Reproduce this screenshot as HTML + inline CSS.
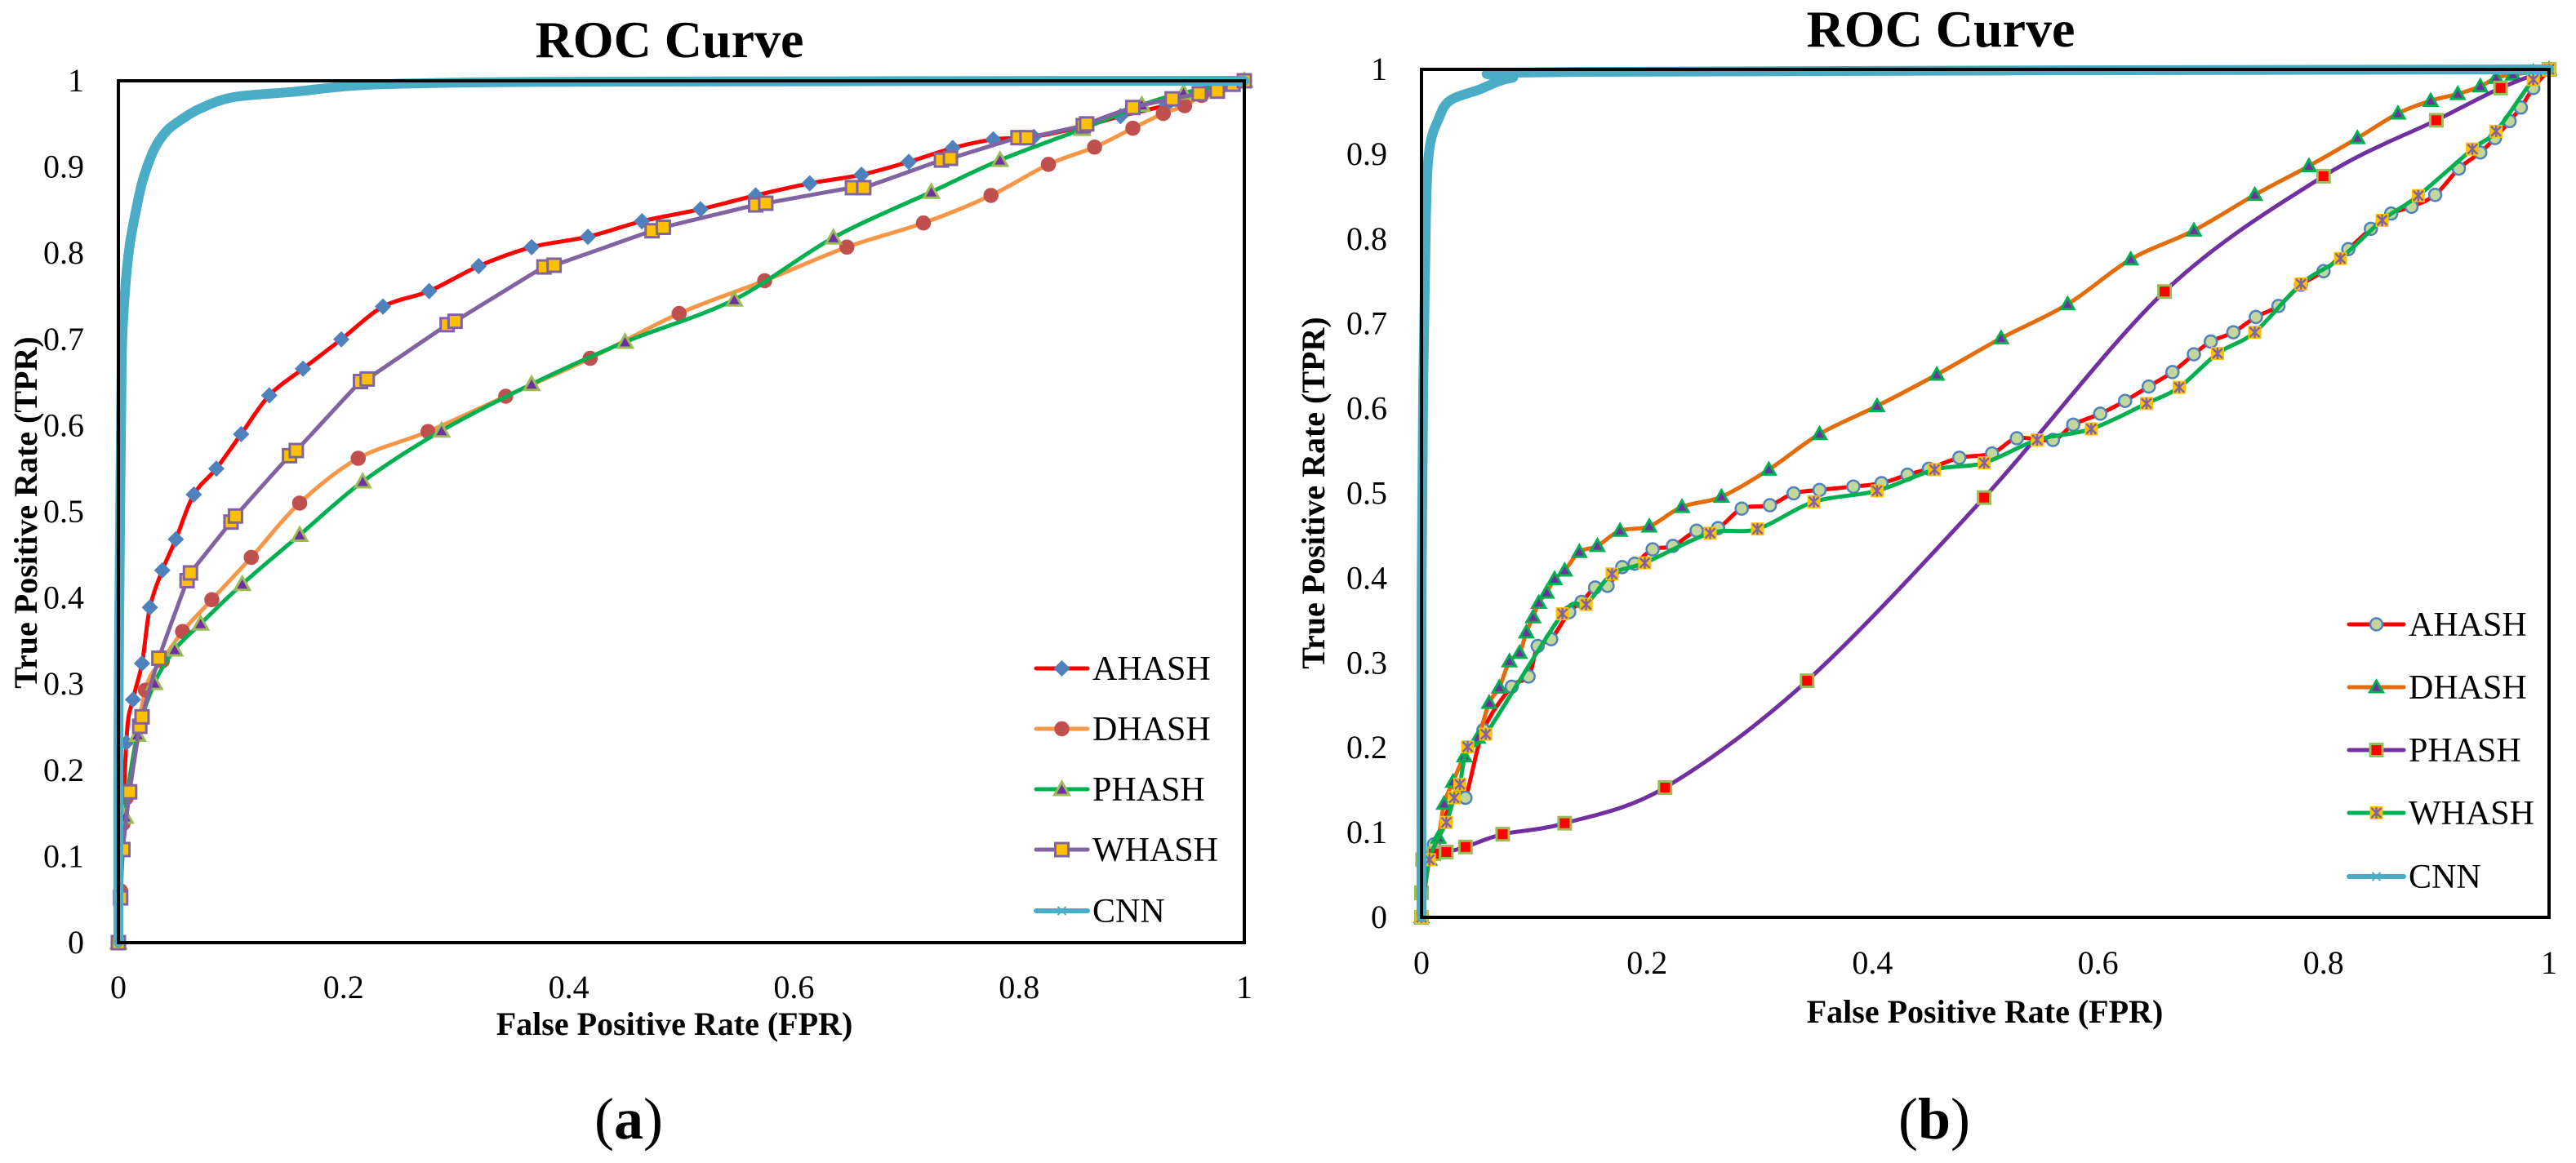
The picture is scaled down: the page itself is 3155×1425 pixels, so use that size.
<!DOCTYPE html>
<html><head><meta charset="utf-8">
<style>
html,body{margin:0;padding:0;background:#fff;}
svg{display:block;}
text{font-family:"Liberation Serif",serif;fill:#000;}
</style></head>
<body>
<svg id="fig" width="3155" height="1425" viewBox="0 0 3155 1425" xmlns="http://www.w3.org/2000/svg"></svg>
<script>
// ---------- Panel (a) data ----------
const ticksA = [0,0.2,0.4,0.6,0.8,1];
const yTicks = [0,0.1,0.2,0.3,0.4,0.5,0.6,0.7,0.8,0.9,1];
const tickLabelsX = ["0","0.2","0.4","0.6","0.8","1"];
const tickLabelsY = ["0","0.1","0.2","0.3","0.4","0.5","0.6","0.7","0.8","0.9","1"];
const seriesNames = ["AHASH","DHASH","PHASH","WHASH","CNN"];

const aAhashX=[0,.007,.013,.021,.028,.039,.051,.067,.087,.109,.134,.164,.198,.235,.276,.32,.367,.417,.465,.517,.566,.614,.66,.702,.741,.777,.813,.857,.89,.931,.968,1];
const aAhashY=[0,.232,.282,.324,.389,.432,.468,.52,.55,.59,.635,.666,.7,.738,.756,.785,.807,.819,.837,.851,.867,.881,.891,.906,.922,.932,.935,.947,.959,.972,.99,1];
const aDhashX=[0,.002,.004,.007,.024,.039,.057,.083,.118,.161,.213,.275,.344,.419,.498,.574,.647,.715,.775,.826,.867,.901,.928,.947,.962,.977,1];
const aDhashY=[0,.06,.138,.168,.293,.327,.361,.398,.447,.51,.562,.593,.634,.678,.73,.768,.807,.835,.867,.903,.923,.945,.962,.971,.983,.99,1];
const aPhashX=[0,.006,.017,.032,.05,.073,.11,.161,.217,.287,.367,.45,.547,.635,.722,.783,.856,.909,.946,1];
const aPhashY=[0,.146,.241,.301,.34,.37,.416,.473,.535,.594,.648,.697,.746,.818,.871,.908,.944,.972,.986,1];
const aWhashX=[0,.002,.004,.01,.019,.021,.036,.061,.064,.1,.104,.152,.158,.215,.221,.292,.299,.378,.387,.474,.484,.566,.575,.652,.662,.731,.739,.799,.807,.857,.86,.901,.936,.96,.976,.99,1];
const aWhashY=[0,.052,.108,.175,.251,.262,.33,.42,.429,.488,.495,.565,.571,.651,.654,.717,.721,.784,.786,.826,.83,.856,.858,.876,.876,.908,.91,.934,.934,.948,.95,.969,.979,.985,.988,.996,1];
const aCnnX=[0,0,.0015,.003,.006,.01,.016,.022,.032,.043,.056,.073,.102,.154,.206,.265,.413,1];
const aCnnY=[0,.23,.49,.68,.758,.809,.852,.886,.921,.942,.955,.968,.981,.987,.994,.997,.999,1];

// ---------- Panel (b) data ----------
const bAhashX=[0,.001,.011,.033,.039,.055,.08,.095,.103,.115,.131,.142,.154,.165,.178,.189,.205,.223,.244,.263,.284,.309,.33,.353,.383,.408,.431,.45,.477,.506,.528,.56,.578,.602,.624,.645,.666,.685,.7,.72,.74,.76,.78,.8,.822,.842,.86,.878,.899,.92,.939,.952,.965,.975,.986,1];
const bAhashY=[0,.068,.086,.155,.141,.221,.272,.284,.32,.328,.36,.372,.389,.391,.413,.417,.434,.438,.456,.459,.482,.486,.5,.504,.508,.512,.522,.529,.542,.547,.565,.563,.581,.594,.609,.626,.643,.664,.679,.69,.708,.721,.746,.762,.788,.812,.83,.838,.852,.883,.902,.919,.939,.955,.978,1];
const bDhashX=[0,.007,.015,.02,.028,.038,.05,.06,.069,.078,.087,.093,.099,.104,.111,.118,.127,.14,.156,.176,.202,.231,.266,.308,.353,.404,.457,.514,.573,.629,.685,.739,.787,.83,.866,.895,.919,.939,.953,.968,.986,1];
const bDhashY=[0,.068,.094,.134,.16,.19,.212,.253,.271,.302,.312,.336,.354,.371,.383,.399,.409,.431,.438,.456,.461,.484,.496,.528,.57,.603,.64,.683,.723,.776,.81,.852,.886,.919,.948,.963,.971,.98,.99,.994,.997,1];
const bPhashX=[0,0,.001,.011,.022,.039,.072,.127,.216,.342,.499,.659,.8,.9,.957,1];
const bPhashY=[0,.029,.068,.075,.077,.083,.098,.111,.153,.279,.495,.738,.874,.94,.978,1];
const bWhashX=[0,.007,.022,.029,.034,.041,.057,.125,.146,.169,.198,.256,.298,.348,.404,.455,.499,.546,.594,.643,.672,.706,.739,.78,.815,.852,.884,.932,.953,.986,1];
const bWhashY=[0,.068,.112,.141,.157,.201,.216,.358,.369,.405,.418,.453,.458,.49,.503,.528,.536,.563,.576,.606,.625,.665,.69,.747,.777,.822,.851,.906,.927,.988,1];
const bCnnX=[0,0,.0015,.004,.007,.015,.025,.051,.08,.138,1];
const bCnnY=[0,.339,.627,.828,.906,.941,.963,.976,.99,.997,1];

const NS="http://www.w3.org/2000/svg";
const svg=document.getElementById('fig');
function mk(tag,attrs,parent){const e=document.createElementNS(NS,tag);for(const k in attrs)e.setAttribute(k,attrs[k]);(parent||svg).appendChild(e);return e;}

function smoothPath(pts){
  if(pts.length<2)return "";
  let d=`M${pts[0][0]},${pts[0][1]}`;
  for(let i=0;i<pts.length-1;i++){
    const p0=pts[i-1]||pts[i],p1=pts[i],p2=pts[i+1],p3=pts[i+2]||p2;
    const t=0.16;
    const c1=[p1[0]+(p2[0]-p0[0])*t,p1[1]+(p2[1]-p0[1])*t];
    const c2=[p2[0]-(p3[0]-p1[0])*t,p2[1]-(p3[1]-p1[1])*t];
    d+=` C${c1[0].toFixed(1)},${c1[1].toFixed(1)} ${c2[0].toFixed(1)},${c2[1].toFixed(1)} ${p2[0].toFixed(1)},${p2[1].toFixed(1)}`;
  }
  return d;
}

function marker(g,type,x,y,s){
  const r=s.size/2;let e;
  if(type==='diamond'){e=mk('polygon',{points:`${x},${y-r-2} ${x+r+2},${y} ${x},${y+r+2} ${x-r-2},${y}`,fill:s.mf,stroke:s.ms,'stroke-width':1.5},g);}
  else if(type==='circle'){e=mk('circle',{cx:x,cy:y,r:r,fill:s.mf,stroke:s.ms,'stroke-width':2.5},g);}
  else if(type==='triangle'){e=mk('polygon',{points:`${x},${y-r-1} ${x+r+1},${y+r-1} ${x-r-1},${y+r-1}`,fill:s.mf,stroke:s.ms,'stroke-width':3},g);}
  else if(type==='square'){e=mk('rect',{x:x-r,y:y-r,width:2*r,height:2*r,fill:s.mf,stroke:s.ms,'stroke-width':3},g);}
  else if(type==='xsquare'){e=mk('g',{},g);mk('rect',{x:x-r,y:y-r,width:2*r,height:2*r,fill:s.mf},e);
    mk('path',{d:`M${x-r+2},${y-r+2}L${x+r-2},${y+r-2}M${x+r-2},${y-r+2}L${x-r+2},${y+r-2}M${x},${y-r+1}L${x},${y+r-1}`,stroke:s.ms,'stroke-width':2.5},e);}
  else if(type==='x'){e=mk('path',{d:`M${x-5},${y-5}L${x+5},${y+5}M${x+5},${y-5}L${x-5},${y+5}`,stroke:s.ms,'stroke-width':2},g);}
  
  
  return e;
}

function panel(cfg){
  const {L,T,R,B}=cfg;
  const sx=v=>L+v*(R-L), sy=v=>B-v*(B-T);
  const root=mk('g',{});
  
  
  const t=mk('text',{x:cfg.titleX,y:cfg.titleY,'text-anchor':'middle','font-size':64,'font-weight':'bold'},root);t.textContent='ROC Curve';
  
  yTicks.forEach((v,i)=>{const e=mk('text',{x:cfg.yLabX,y:sy(v)+13,'text-anchor':'end','font-size':40},root);e.textContent=tickLabelsY[i];
    });
  ticksA.forEach((v,i)=>{const e=mk('text',{x:sx(v),y:cfg.xLabY,'text-anchor':'middle','font-size':40},root);e.textContent=tickLabelsX[i];
    });
  const xt=mk('text',{x:cfg.xtX,y:cfg.xtY,'text-anchor':'middle','font-size':40,'font-weight':'bold'},root);xt.textContent='False Positive Rate (FPR)';
  
  const yt=mk('text',{x:0,y:0,'text-anchor':'middle','font-size':40,'font-weight':'bold',transform:`translate(${cfg.ytX},${cfg.ytY}) rotate(-90)`},root);yt.textContent='True Positive Rate (TPR)';
  
  const cap=mk('text',{x:cfg.capX,y:cfg.capY,'text-anchor':'middle','font-size':72},root);
  cap.innerHTML='(<tspan font-weight="bold">'+cfg.cap+'</tspan>)';
  
  cfg.series.forEach(s=>{
    const g=mk('g',{},root);
    
    const pts=s.xs.map((x,i)=>[sx(x),sy(s.ys[i])]);
    const p=mk('path',{d:smoothPath(pts),fill:'none',stroke:s.color,'stroke-width':s.lw,'stroke-linejoin':'round','stroke-linecap':'round'},g);
    
    if(s.mtype!=='x') pts.forEach(q=>marker(g,s.mtype,q[0],q[1],s));
  });
  const fr=mk('rect',{x:L,y:T,width:R-L,height:B-T,fill:'none',stroke:'#000','stroke-width':4},root);
  
  cfg.series.forEach((s,i)=>{
    const g=mk('g',{},root);
    
    const y=cfg.legY[i];
    mk('line',{x1:cfg.legX1,y1:y,x2:cfg.legX2,y2:y,stroke:s.color,'stroke-width':s.mtype==='x'?6:5,'stroke-linecap':'round'},g);
    marker(g,s.mtype,(cfg.legX1+cfg.legX2)/2,y,s);
    const tx=mk('text',{x:cfg.legX2+6,y:y+14,'font-size':42},g);tx.textContent=seriesNames[i];
  });
}

panel({id:'panel-a',L:145,T:99,R:1524,B:1155,titleX:820,titleY:70,yLabX:103,xLabY:1223,xtX:826,xtY:1268,ytX:45,ytY:628,capX:770,capY:1395,cap:'a',
  legX1:1269,legX2:1332,legY:[819,893,967,1041,1116],
  series:[
   {key:'ahash',xs:aAhashX,ys:aAhashY,color:'#ff0000',lw:5,mtype:'diamond',mf:'#4f81bd',ms:'#4f81bd',size:14},
   {key:'dhash',xs:aDhashX,ys:aDhashY,color:'#f79646',lw:5,mtype:'circle',mf:'#c0504d',ms:'#c0504d',size:16},
   {key:'phash',xs:aPhashX,ys:aPhashY,color:'#00b050',lw:5,mtype:'triangle',mf:'#7030a0',ms:'#9bbb59',size:16},
   {key:'whash',xs:aWhashX,ys:aWhashY,color:'#8064a2',lw:5,mtype:'square',mf:'#ffc000',ms:'#8064a2',size:16},
   {key:'cnn',xs:aCnnX,ys:aCnnY,color:'#4bacc6',lw:12,mtype:'x',mf:'#4bacc6',ms:'#4bacc6',size:10}]});

panel({id:'panel-b',L:1741,T:85,R:3122,B:1124,titleX:2377,titleY:57,yLabX:1699,xLabY:1193,xtX:2431,xtY:1253,ytX:1622,ytY:604,capX:2369,capY:1395,cap:'b',
  legX1:2877,legX2:2944,legY:[765,842,919,996,1074],
  series:[
   {key:'ahash',xs:bAhashX,ys:bAhashY,color:'#ff0000',lw:5,mtype:'circle',mf:'#c3d69b',ms:'#4f81bd',size:15},
   {key:'dhash',xs:bDhashX,ys:bDhashY,color:'#e46c0a',lw:5,mtype:'triangle',mf:'#7030a0',ms:'#00b050',size:14},
   {key:'phash',xs:bPhashX,ys:bPhashY,color:'#7030a0',lw:5,mtype:'square',mf:'#ff0000',ms:'#9bbb59',size:15},
   {key:'whash',xs:bWhashX,ys:bWhashY,color:'#00b050',lw:5,mtype:'xsquare',mf:'#ffc000',ms:'#8064a2',size:16},
   {key:'cnn',xs:bCnnX,ys:bCnnY,color:'#4bacc6',lw:12,mtype:'x',mf:'#4bacc6',ms:'#4bacc6',size:10}]});
</script>
</body></html>
